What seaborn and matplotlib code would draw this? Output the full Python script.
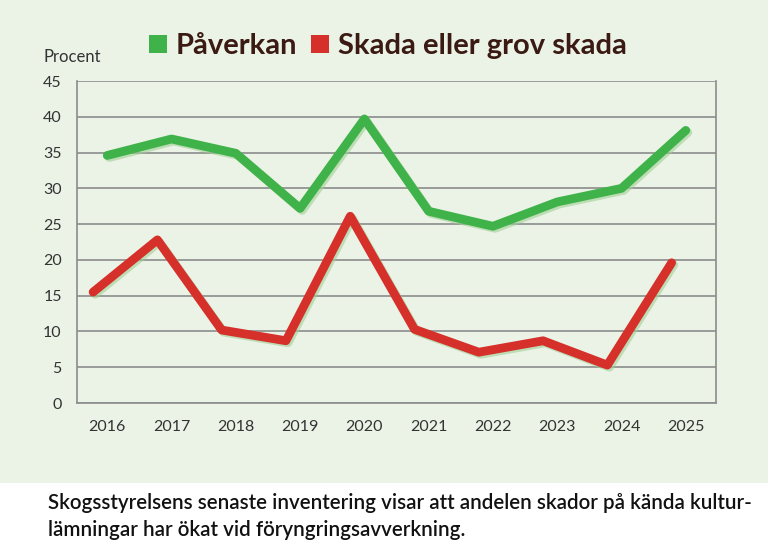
import matplotlib
matplotlib.use("Agg")
import matplotlib.pyplot as plt
import matplotlib.patheffects as pe
from matplotlib.patches import Patch, Rectangle
import seaborn as sns
import pandas as pd

years = ["2016", "2017", "2018", "2019", "2020", "2021", "2022", "2023", "2024", "2025"]
paverkan = [34.6, 36.9, 34.9, 27.2, 39.7, 26.8, 24.7, 28.1, 30.0, 38.1]
skada = [15.5, 22.8, 10.2, 8.7, 26.1, 10.3, 7.1, 8.7, 5.3, 19.6]
series_names = ["Påverkan", "Skada eller grov skada"]
yticks = [0, 5, 10, 15, 20, 25, 30, 35, 40, 45]
caption = ("Skogsstyrelsens senaste inventering visar att andelen skador på kända kultur-\n"
           "lämningar har ökat vid föryngringsavverkning.")

GREEN = "#3fb24a"
RED = "#d5302a"
BG = "#ebf3e7"
TXT = "#3a1a12"
RED_SHIFT = -0.22

rows = []
for i, (g, r) in enumerate(zip(paverkan, skada)):
    rows.append({"x": i, "v": g, "serie": series_names[0]})
    rows.append({"x": i + RED_SHIFT, "v": r, "serie": series_names[1]})
df = pd.DataFrame(rows)

sns.set_theme(style="white")
plt.rcParams["font.family"] = ["Lato", "DejaVu Sans"]

fig = plt.figure(figsize=(7.68, 5.53), dpi=100)
fig.patch.set_facecolor("white")
fig.add_artist(Rectangle((0, 0.127), 1, 0.873, transform=fig.transFigure,
                         facecolor=BG, edgecolor="none", zorder=0))

ax = fig.add_axes([0.1003, 0.2712, 0.832, 0.5823])
ax.set_facecolor(BG)
ax.set_zorder(1)

sns.lineplot(data=df, x="x", y="v", hue="serie", palette=[GREEN, RED],
             linewidth=6.3, ax=ax, legend=False, solid_joinstyle="round",
             solid_capstyle="round")
for ln in ax.get_lines():
    ln.set_path_effects([pe.SimpleLineShadow(offset=(1.5, -1.5), shadow_color="#9fcf94", alpha=0.6),
                         pe.Normal()])

ax.set_xlim(-0.47, 9.47)
ax.set_ylim(0, 45)
ax.set_yticks(yticks)
ax.set_yticklabels([str(t) for t in yticks], color="#333333", fontsize=11.5)
ax.set_xticks(range(len(years)))
ax.set_xticklabels(years, color="#333333", fontsize=11.5)
ax.tick_params(axis="x", length=0, pad=12)
ax.tick_params(axis="y", length=0, pad=11)
ax.set_xlabel("")
ax.set_ylabel("")
ax.grid(axis="y", color="#8c8c8c", linewidth=1.2)
ax.set_axisbelow(True)
for s in ax.spines.values():
    s.set_visible(True)
    s.set_color("#8c8c8c")
    s.set_linewidth(1.2)
ax.spines["top"].set_visible(False)

fig.text(0.057, 0.897, "Procent", fontsize=12, color="#333333", ha="left", va="center")

handles = [Patch(facecolor=GREEN, edgecolor="none"), Patch(facecolor=RED, edgecolor="none")]
fig.legend(handles, series_names, loc="center", bbox_to_anchor=(0.505, 0.916), ncol=2,
           frameon=False, handlelength=0.6, handleheight=0.6,
           handletextpad=0.3, columnspacing=0.5, labelcolor=TXT,
           prop={"family": ["Lato", "DejaVu Sans"], "weight": "bold", "size": 21})

fig.text(0.062, 0.066, caption, fontsize=14.8, color="#111111", ha="left", va="center",
         linespacing=1.4, fontweight="semibold")

fig.savefig("out.png", dpi=100, facecolor=fig.get_facecolor())
